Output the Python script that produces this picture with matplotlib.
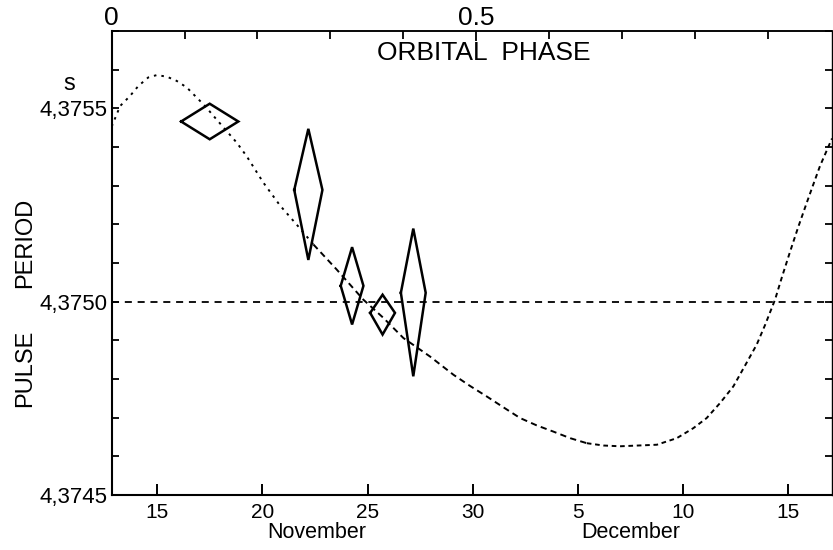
"""Pulse period against date, with the orbital Doppler curve and phase scale."""

import matplotlib

matplotlib.use("Agg")

import matplotlib.pyplot as plt
import matplotlib.transforms as mtransforms
from matplotlib.ticker import FixedLocator, FuncFormatter, MultipleLocator, NullFormatter

plt.rcParams["font.family"] = ["Liberation Sans", "DejaVu Sans"]

# Days are counted from 1 November, so 5 December is day 35.
curve_day = [
    12.83, 13.23, 13.70, 14.10, 14.57, 14.97, 15.45, 15.92, 16.40, 16.87,
    17.27, 17.74, 18.22, 18.78, 19.25, 20.04, 20.83, 21.79, 22.42, 23.53,
    24.80, 25.75, 26.70, 27.97, 29.08, 29.87, 30.66, 31.45, 32.25, 33.04,
    33.83, 34.63, 35.42, 36.21, 37.00, 38.75, 39.70, 40.49, 41.12, 41.76,
    42.39, 43.03, 43.50, 43.90, 44.37, 44.69, 45.09, 45.48, 45.88, 46.19,
    46.51, 46.75, 46.99, 47.08,
]
curve_period = [
    4.375453, 4.375506, 4.375532, 4.375558, 4.375580, 4.375586, 4.375582,
    4.375571, 4.375554, 4.375528, 4.375506, 4.375476, 4.375446, 4.375411,
    4.375376, 4.375308, 4.375249, 4.375189, 4.375148, 4.375083, 4.375005,
    4.374958, 4.374906, 4.374858, 4.374811, 4.374782, 4.374755, 4.374727,
    4.374699, 4.374680, 4.374664, 4.374647, 4.374634, 4.374628, 4.374626,
    4.374630, 4.374647, 4.374673, 4.374699, 4.374738, 4.374781, 4.374843,
    4.374889, 4.374940, 4.375005, 4.375062, 4.375130, 4.375194, 4.375256,
    4.375303, 4.375351, 4.375381, 4.375411, 4.375422,
]

# Measured periods: centre, half-width in time, upper / lower period errors.
obs_day = [17.49, 22.18, 24.26, 25.71, 27.17]
obs_period = [4.375466, 4.375289, 4.375041, 4.374971, 4.375023]
obs_day_err = [1.36, 0.67, 0.54, 0.59, 0.59]
obs_err_up = [0.000046, 0.000158, 0.000100, 0.000047, 0.000166]
obs_err_dn = [0.000046, 0.000181, 0.000100, 0.000056, 0.000216]

date_ticks = [15, 20, 25, 30, 35, 40, 45]
date_labels = ["15", "20", "25", "30", "5", "10", "15"]
month_names = ["November", "December"]
month_centres = [22.6, 37.5]

REF_PERIOD = 4.3750
PHASE_ZERO_DAY = 12.83
ORBIT_DAYS = 34.65
X_RANGE = (12.83, 47.08)
Y_RANGE = (4.3745, 4.37570)

# (first day, last day, dash pattern) for the pieces of the Doppler curve
CURVE_PIECES = [
    (12.0, 22.42, (0, (1.3, 2.6))),
    (22.42, 35.42, (0, (3.2, 2.2))),
    (35.42, 48.0, (0, (2.4, 1.9))),
]


def comma_decimal(v, _pos):
    return f"{v:.4f}".replace(".", ",")


def draw_curve(ax):
    for lo, hi, dashes in CURVE_PIECES:
        pts = [(d, p) for d, p in zip(curve_day, curve_period) if lo <= d <= hi]
        xs, ys = zip(*pts)
        ax.plot(xs, ys, color="black", lw=1.4, linestyle=dashes,
                dash_capstyle="butt")


def draw_diamonds(ax):
    for d, p, w, up, dn in zip(obs_day, obs_period, obs_day_err,
                               obs_err_up, obs_err_dn):
        xs = [d - w, d, d + w, d, d - w]
        ys = [p, p + up, p, p - dn, p]
        ax.plot(xs, ys, color="black", lw=1.8, solid_joinstyle="miter")


def main():
    fig = plt.figure(figsize=(8.33, 5.5), dpi=100)
    ax = fig.add_axes([0.1341, 0.10, 0.8647, 0.8436])

    ax.axhline(REF_PERIOD, color="black", lw=1.3, linestyle=(0, (3.9, 3.2)))
    draw_curve(ax)
    draw_diamonds(ax)

    ax.set_xlim(*X_RANGE)
    ax.set_ylim(*Y_RANGE)

    for side, lw in (("left", 1.5), ("bottom", 1.5), ("top", 1.1), ("right", 1.0)):
        ax.spines[side].set_linewidth(lw)

    # bottom: calendar dates
    ax.xaxis.set_major_locator(FixedLocator(date_ticks))
    ax.set_xticklabels(date_labels)
    ax.tick_params(axis="x", which="major", direction="in", length=8, width=1.4,
                   labelsize=15, pad=6, top=False)
    blend = mtransforms.blended_transform_factory(ax.transData, ax.transAxes)
    for name, c in zip(month_names, month_centres):
        ax.text(c, -0.08, name, transform=blend, ha="center", va="center",
                fontsize=15.5)

    # left / right: pulse period
    ax.yaxis.set_major_locator(MultipleLocator(0.0005))
    ax.yaxis.set_minor_locator(MultipleLocator(0.0001))
    ax.yaxis.set_major_formatter(FuncFormatter(comma_decimal))
    ax.tick_params(axis="y", which="both", direction="in", length=5, width=1.3,
                   right=True, labelsize=16, pad=3)
    ax.text(-0.059, 0.886, "s", transform=ax.transAxes, ha="center",
            va="center", fontsize=17)
    ax.text(-0.12, 0.274, "PULSE", transform=ax.transAxes, rotation=90,
            ha="center", va="center", fontsize=17)
    ax.text(-0.12, 0.543, "PERIOD", transform=ax.transAxes, rotation=90,
            ha="center", va="center", fontsize=17)

    # top: orbital phase
    top = ax.secondary_xaxis(
        "top",
        functions=(lambda d: (d - PHASE_ZERO_DAY) / ORBIT_DAYS,
                   lambda ph: ph * ORBIT_DAYS + PHASE_ZERO_DAY),
    )
    top.xaxis.set_major_locator(FixedLocator([0.0, 0.5]))
    top.xaxis.set_major_formatter(FuncFormatter(lambda v, _p: f"{v:g}"))
    top.xaxis.set_minor_locator(FixedLocator([0.1, 0.2, 0.3, 0.4, 0.6, 0.7, 0.8, 0.9]))
    top.xaxis.set_minor_formatter(NullFormatter())
    top.tick_params(which="major", direction="in", length=7, width=1.3,
                    labelsize=19, pad=0.5)
    top.tick_params(which="minor", direction="in", length=6, width=1.3)
    top.spines["top"].set_linewidth(1.1)
    ax.text(0.517, 0.953, "ORBITAL  PHASE", transform=ax.transAxes,
            ha="center", va="center", fontsize=19)

    fig.savefig("out.png", dpi=100)
    plt.close(fig)


if __name__ == "__main__":
    main()
